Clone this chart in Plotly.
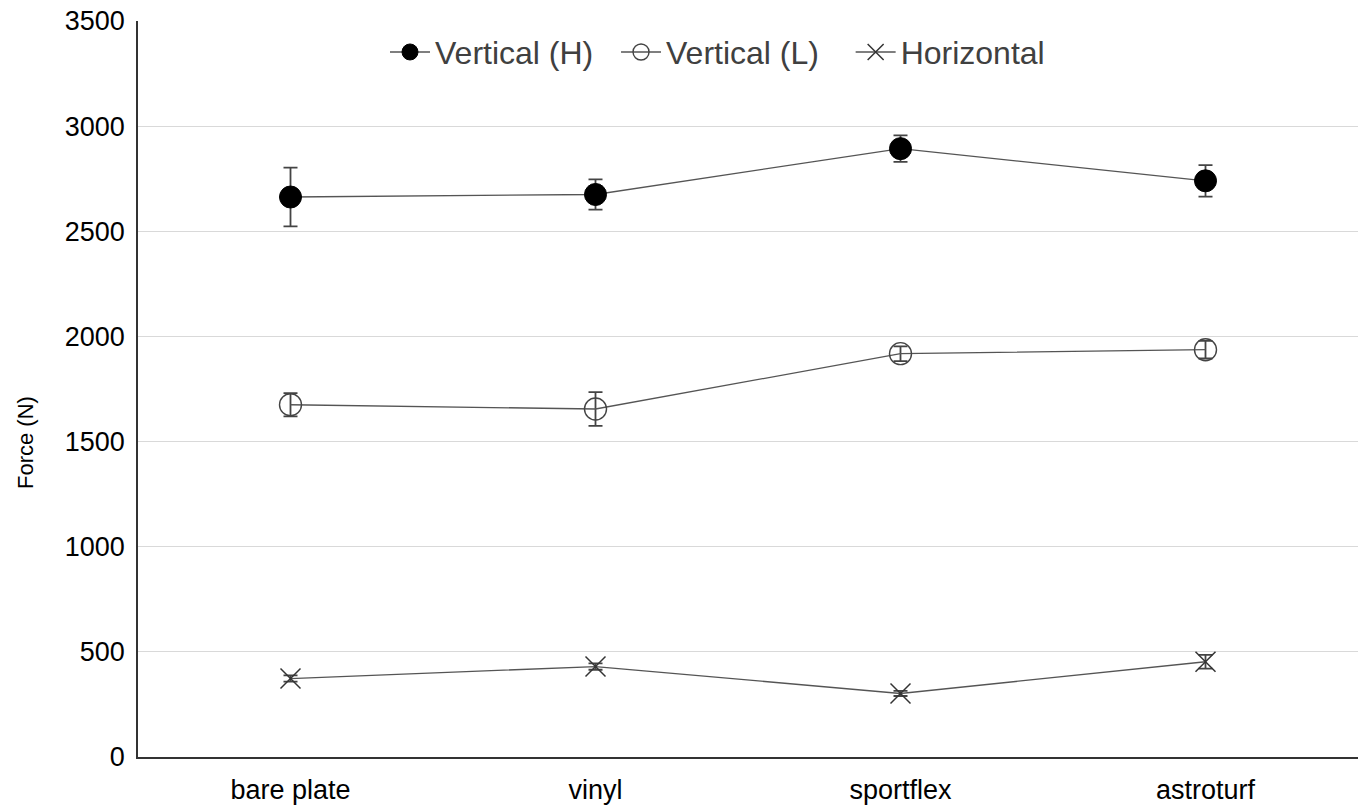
import plotly.graph_objects as go

categories = ["bare plate", "vinyl", "sportflex", "astroturf"]
vert_h = [2663, 2675, 2893, 2740]
vert_h_err = [140, 72, 63, 75]
vert_l = [1675, 1655, 1918, 1937]
vert_l_err = [55, 80, 35, 42]
horiz = [373, 430, 302, 453]
horiz_err = [15, 15, 12, 33]
y_ticks = [0, 500, 1000, 1500, 2000, 2500, 3000, 3500]

line_col = "#555555"
gap = "\u00a0\u00a0"

fig = go.Figure()
fig.add_trace(go.Scatter(
    x=categories, y=vert_h, mode="lines+markers", name="Vertical (H)" + gap,
    line=dict(color=line_col, width=1.3),
    marker=dict(symbol="circle", size=22, color="black", line=dict(color="black", width=1)),
    error_y=dict(type="data", array=vert_h_err, color="#444444", thickness=1.8, width=7),
))
fig.add_trace(go.Scatter(
    x=categories, y=vert_l, mode="lines+markers", name="Vertical (L)" + gap + "\u00a0",
    line=dict(color=line_col, width=1.3),
    marker=dict(symbol="circle-open", size=22, color="#444444", line=dict(color="#444444", width=1.4)),
    error_y=dict(type="data", array=vert_l_err, color="#444444", thickness=1.8, width=7),
))
fig.add_trace(go.Scatter(
    x=categories, y=horiz, mode="lines+markers", name="Horizontal",
    line=dict(color=line_col, width=1.3),
    marker=dict(symbol="x-thin-open", size=20, color="#333333", line=dict(color="#333333", width=1.5)),
    error_y=dict(type="data", array=horiz_err, color="#444444", thickness=1.8, width=7),
))

plot_left, plot_w = 138, 1220

fig.update_layout(
    width=1359, height=805,
    margin=dict(l=plot_left, r=1, t=21, b=48),
    paper_bgcolor="white", plot_bgcolor="white",
    font=dict(family="Liberation Sans, Arial, sans-serif", size=27, color="black"),
    showlegend=True,
    legend=dict(orientation="h", x=0.475, y=0.995, xanchor="center", yanchor="top",
                font=dict(size=32, color="#404040"), bgcolor="rgba(0,0,0,0)",
                itemwidth=40),
    annotations=[dict(
        text="Force (N)", textangle=-90, showarrow=False,
        xref="paper", yref="paper",
        x=(25 - plot_left) / plot_w, y=(757 - 443) / 736,
        xanchor="center", yanchor="middle",
        font=dict(size=22, color="black"),
    )],
)
fig.update_xaxes(
    type="category", showline=True, linecolor="#333333", linewidth=1.5, automargin=False,
    showgrid=False, ticks="", tickfont=dict(size=27), range=[-0.5, 3.5],
    ticklabelstandoff=8,
)
fig.update_yaxes(
    range=[0, 3500], tickvals=y_ticks, showgrid=True, gridcolor="#d9d9d9", gridwidth=1.3,
    showline=True, linecolor="#333333", linewidth=1.5, ticks="", zeroline=False, automargin=False,
    ticklabelstandoff=6, tickfont=dict(size=27),
)

fig.write_html("out.html", config={"displayModeBar": False},
               post_script="document.body.style.margin='0';document.body.style.overflow='hidden';")
